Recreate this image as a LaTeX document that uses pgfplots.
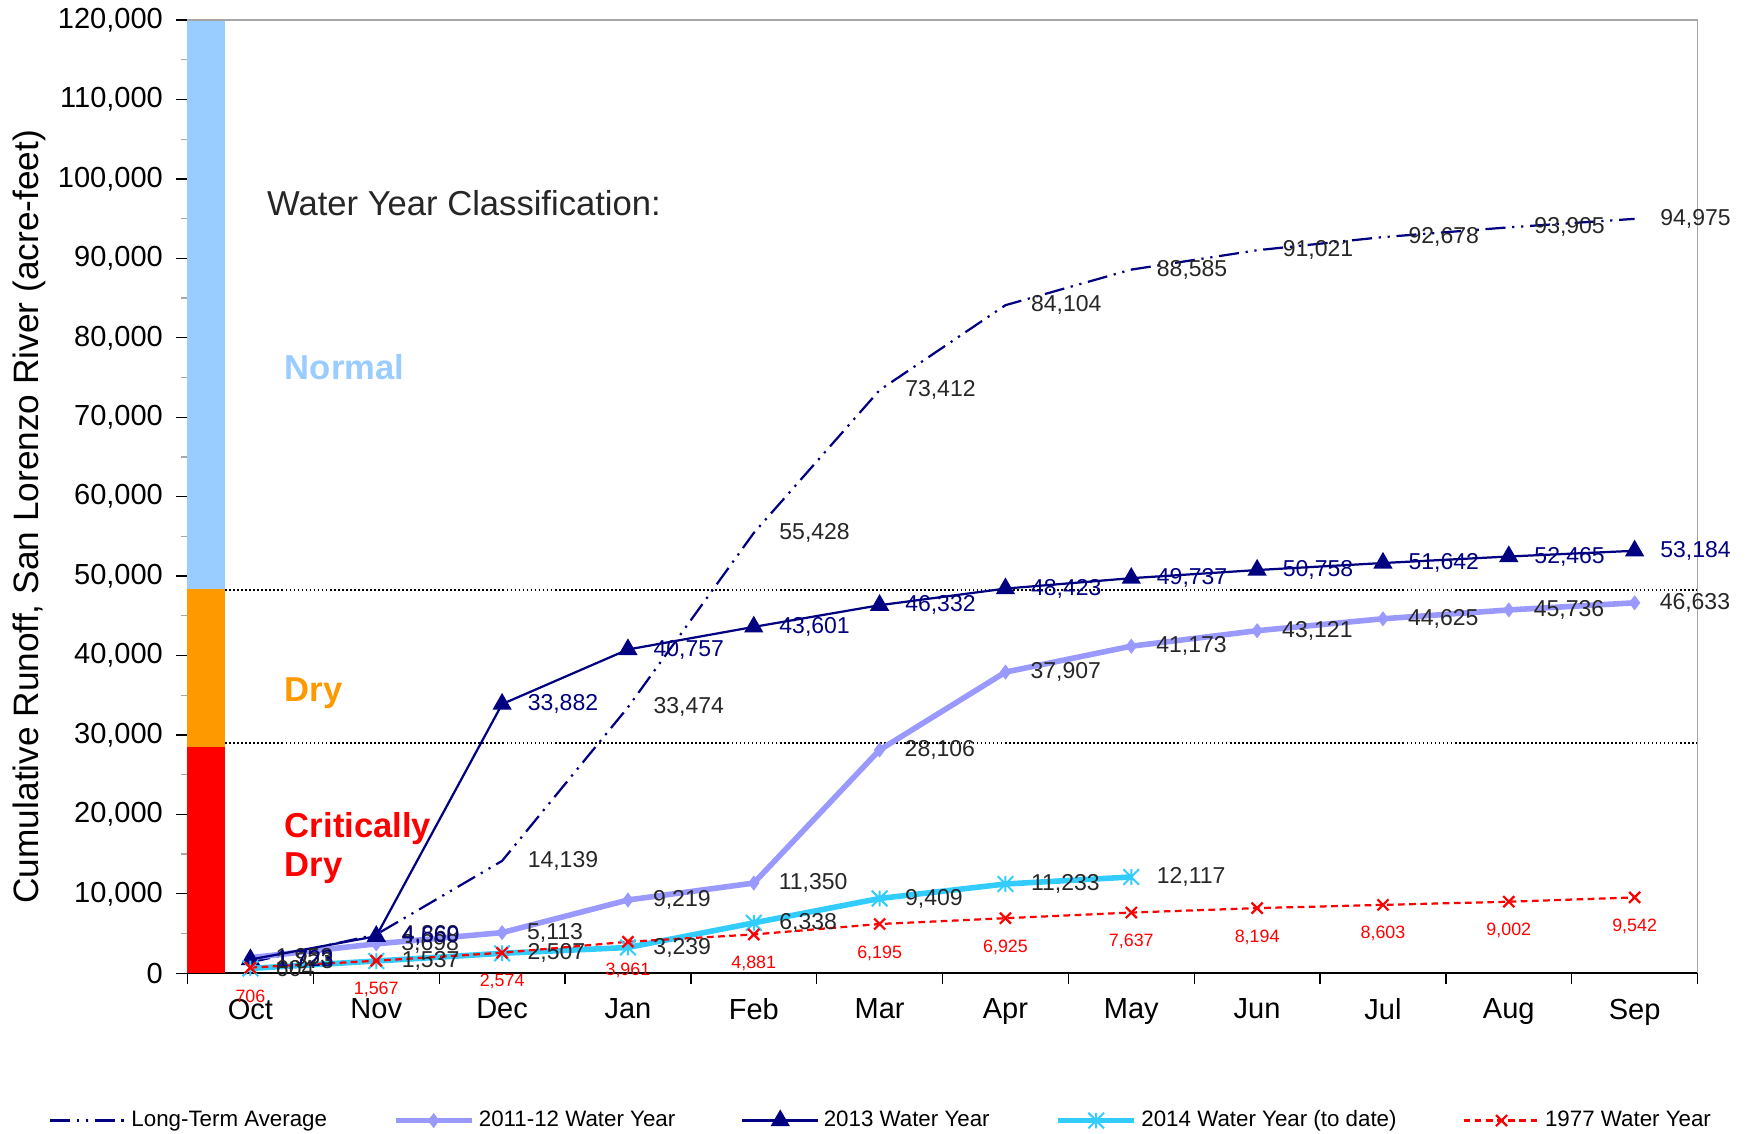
\documentclass[border=0pt]{standalone}
\usepackage{pgfplots}
\pgfplotsset{compat=1.18}
\usepackage{fontspec}
\setmainfont{Liberation Sans}
\definecolor{navy}{RGB}{0,0,128}
\definecolor{lav}{RGB}{153,153,255}
\definecolor{sky}{RGB}{51,204,255}
\definecolor{lblue}{RGB}{153,204,255}
\definecolor{orng}{RGB}{255,153,0}
\newcommand\lbl{\fontsize{10.3}{12}\selectfont}
\pgfdeclareplotmark{xstar}{%
  \pgfpathmoveto{\pgfqpoint{-\pgfplotmarksize}{-\pgfplotmarksize}}%
  \pgfpathlineto{\pgfqpoint{\pgfplotmarksize}{\pgfplotmarksize}}%
  \pgfpathmoveto{\pgfqpoint{-\pgfplotmarksize}{\pgfplotmarksize}}%
  \pgfpathlineto{\pgfqpoint{\pgfplotmarksize}{-\pgfplotmarksize}}%
  \pgfpathmoveto{\pgfqpoint{0pt}{-\pgfplotmarksize}}%
  \pgfpathlineto{\pgfqpoint{0pt}{\pgfplotmarksize}}%
  \pgfusepathqstroke}
\begin{document}
\begin{tikzpicture}
\path[use as bounding box] (-84pt,-72pt) rectangle (700pt,436pt);
\begin{axis}[
  at={(0,0)}, anchor=south west,
  scale only axis, width=676.5pt, height=427pt,
  xmin=-0.5, xmax=11.5, ymin=0, ymax=120000,
  clip=false,
  axis x line*=bottom, axis y line*=left,
  axis line style={black, line width=0.7pt},
  tick align=outside,
  major tick length=5pt, minor tick length=3pt,
  tick style={black, line width=0.6pt},
  minor tick style={gray!70, line width=0.6pt},
  xtick={-0.5,0.5,...,11.5}, xticklabels={},
  extra x ticks={0,1,2,3,4,5,6,7,8,9,10,11},
  extra x tick labels={Oct,Nov,Dec,Jan,Feb,Mar,Apr,May,Jun,Jul,Aug,Sep},
  extra x tick style={major tick length=0pt, tick label style={yshift=-8pt}},
  ytick={0,10000,...,120000}, minor y tick num=1,
  yticklabel style={xshift=-2.5pt},
  scaled y ticks=false,
  /pgf/number format/fixed, /pgf/number format/precision=0,
  /pgf/number format/1000 sep={,},
  /pgf/number format/assume math mode=true,
  tick label style={font=\fontsize{13}{15}\selectfont},
  ylabel={Cumulative Runoff, San Lorenzo River (acre-feet)},
  ylabel style={at={(axis description cs:-0.105,0.479)}, rotate=0, anchor=center, font=\fontsize{15.8}{18}\selectfont},
  legend style={at={(axis description cs:0.46,-0.1546)}, anchor=center, draw=none,
    legend columns=5, font=\fontsize{10}{12}\selectfont,
    /tikz/every even column/.append style={column sep=27.5pt}},
  legend image code/.code={\draw[mark repeat=2,mark phase=2] plot coordinates {(0pt,0pt)(17pt,0pt)(34pt,0pt)};},
]
% classification bars
\addplot[forget plot, draw=none, fill=lblue] coordinates {(-0.5,48400)(-0.2,48400)(-0.2,120000)(-0.5,120000)} -- cycle;
\addplot[forget plot, draw=none, fill=orng] coordinates {(-0.5,28500)(-0.2,28500)(-0.2,48400)(-0.5,48400)} -- cycle;
\addplot[forget plot, draw=none, fill=red] coordinates {(-0.5,0)(-0.2,0)(-0.2,28500)(-0.5,28500)} -- cycle;
\addplot[forget plot, black, densely dotted, line width=0.8pt] coordinates {(-0.2,48200)(11.5,48200)};
\addplot[forget plot, black, densely dotted, line width=0.8pt] coordinates {(-0.2,29000)(11.5,29000)};
% series
\addplot[navy, line width=1pt, dash pattern=on 9pt off 3pt on 1pt off 3pt on 1pt off 3pt, mark=none,
  nodes near coords, every node near coord/.append style={anchor=west, xshift=11pt, inner sep=0pt, font=\lbl, text=black!85}]
  coordinates {(0,1373)(1,4869)(2,14139)(3,33474)(4,55428)(5,73412)(6,84104)(7,88585)(8,91021)(9,92678)(10,93905)(11,94975)};
\addlegendentry{Long-Term Average}
\addplot[lav, line width=2.5pt, mark=diamond*, mark size=3pt, mark options={solid, fill=lav, line width=0.5pt},
  nodes near coords, every node near coord/.append style={anchor=west, xshift=11pt, inner sep=0pt, font=\lbl, text=black!85}]
  coordinates {(0,1953)(1,3698)(2,5113)(3,9219)(4,11350)(5,28106)(6,37907)(7,41173)(8,43121)(9,44625)(10,45736)(11,46633)};
\addlegendentry{2011-12 Water Year}
\addplot[navy, line width=1pt, mark=triangle*, mark size=4pt, mark options={solid, fill=navy},
  nodes near coords, every node near coord/.append style={anchor=west, xshift=11pt, inner sep=0pt, font=\lbl, text=navy}]
  coordinates {(0,1723)(1,4660)(2,33882)(3,40757)(4,43601)(5,46332)(6,48423)(7,49737)(8,50758)(9,51642)(10,52465)(11,53184)};
\addlegendentry{2013 Water Year}
\addplot[sky, line width=2.5pt, mark=xstar, mark size=3.5pt, mark options={solid, line width=0.9pt},
  nodes near coords, every node near coord/.append style={anchor=west, xshift=11pt, inner sep=0pt, font=\lbl, text=black!85}]
  coordinates {(0,604)(1,1537)(2,2507)(3,3239)(4,6338)(5,9409)(6,11233)(7,12117)};
\addlegendentry{2014 Water Year (to date)}
\addplot[red, line width=1pt, dash pattern=on 3pt off 2pt, mark=x, mark size=3.5pt, mark options={solid, line width=1pt},
  nodes near coords, every node near coord/.append style={anchor=center, yshift=-13pt, inner sep=0pt, font=\fontsize{8}{9}\selectfont, text=red}]
  coordinates {(0,706)(1,1567)(2,2574)(3,3961)(4,4881)(5,6195)(6,6925)(7,7637)(8,8194)(9,8603)(10,9002)(11,9542)};
\addlegendentry{1977 Water Year}
% frame top/right
\draw[gray!70, line width=0.7pt] (rel axis cs:0,1) -- (rel axis cs:1,1) -- (rel axis cs:1,0);
% texts
\node[anchor=west, font=\fontsize{15.5}{18}\selectfont, text=black!85] at (axis cs:0.071,96950) {Water Year Classification:};
\node[anchor=west, font=\fontsize{15.5}{18}\selectfont\bfseries, text=lblue] at (axis cs:0.212,76300) {Normal};
\node[anchor=west, font=\fontsize{15.5}{18}\selectfont\bfseries, text=orng] at (axis cs:0.212,35300) {Dry};
\node[anchor=west, align=left, font=\fontsize{15.5}{17.5}\selectfont\bfseries, text=red] at (axis cs:0.212,15700) {Critically\\Dry};
\end{axis}
\end{tikzpicture}
\end{document}
